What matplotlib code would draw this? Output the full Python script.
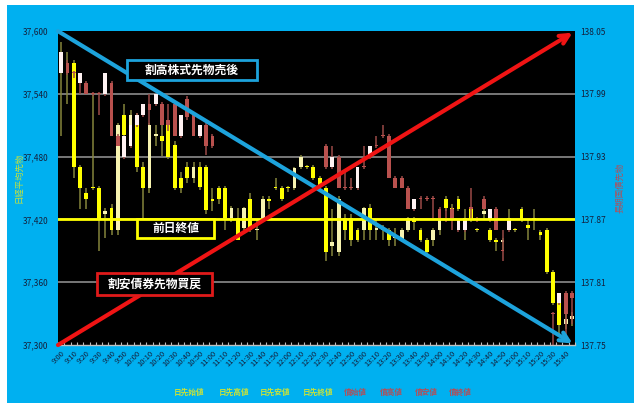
import numpy as np
import matplotlib
matplotlib.use("Agg")
import matplotlib.pyplot as plt
from matplotlib.patches import Rectangle

plt.rcParams['font.family'] = ['Noto Sans CJK JP', 'DejaVu Sans']

# 5分足 9:00 - 15:45
times = ["%d:%02d" % (9 + m // 60, m % 60) for m in range(0, 410, 5)]

# 日経平均先物 (始値, 高値, 安値, 終値)
nk_open = [37575, 37565, 37570, 37470, 37445, 37450, 37450, 37425, 37431, 37410,
           37520, 37510, 37520, 37470, 37450, 37500, 37500, 37510, 37491, 37460,
           37470, 37460, 37470, 37470, 37440, 37450, 37450, 37421, 37421, 37412,
           37440, 37410, 37421, 37440, 37450, 37450, 37450, 37450, 37470, 37470,
           37470, 37460, 37450, 37395, 37389, 37421, 37421, 37410, 37410, 37431,
           37410, 37410, 37410, 37402, 37400, 37410, 37420, 37410, 37400, 37400,
           37410, 37440, 37431, 37440, 37420, 37430, 37410, 37425, 37410, 37400,
           37398, 37420, 37410, 37430, 37415, 37420, 37408, 37410, 37370, 37340,
           37320, 37325]
nk_high = [37590, 37580, 37572, 37472, 37450, 37540, 37452, 37431, 37435, 37512,
           37530, 37525, 37522, 37475, 37512, 37510, 37510, 37512, 37495, 37465,
           37475, 37475, 37475, 37472, 37450, 37452, 37452, 37433, 37431, 37432,
           37445, 37421, 37442, 37442, 37460, 37452, 37452, 37470, 37482, 37472,
           37472, 37462, 37452, 37430, 37442, 37425, 37425, 37412, 37432, 37435,
           37421, 37415, 37412, 37412, 37412, 37422, 37422, 37412, 37402, 37412,
           37422, 37442, 37435, 37442, 37430, 37432, 37412, 37430, 37412, 37402,
           37402, 37430, 37412, 37432, 37420, 37430, 37410, 37412, 37372, 37342,
           37330, 37332]
nk_low = [37500, 37530, 37460, 37430, 37430, 37448, 37390, 37402, 37405, 37405,
          37498, 37505, 37465, 37420, 37445, 37490, 37481, 37478, 37448, 37445,
          37455, 37455, 37448, 37425, 37428, 37435, 37410, 37418, 37400, 37410,
          37408, 37400, 37418, 37430, 37448, 37438, 37446, 37448, 37468, 37468,
          37458, 37450, 37380, 37385, 37385, 37400, 37395, 37398, 37400, 37400,
          37400, 37400, 37395, 37395, 37398, 37408, 37410, 37398, 37385, 37395,
          37405, 37428, 37420, 37428, 37400, 37418, 37408, 37420, 37398, 37390,
          37390, 37410, 37408, 37418, 37400, 37410, 37400, 37368, 37338, 37310,
          37315, 37318]
nk_close = [37565, 37570, 37470, 37450, 37440, 37450, 37420, 37428, 37410, 37510,
            37501, 37520, 37470, 37450, 37510, 37502, 37495, 37480, 37450, 37450,
            37460, 37470, 37451, 37429, 37438, 37440, 37421, 37431, 37400, 37431,
            37410, 37411, 37440, 37438, 37450, 37440, 37450, 37469, 37480, 37470,
            37460, 37451, 37389, 37398, 37440, 37410, 37400, 37400, 37431, 37410,
            37412, 37410, 37400, 37405, 37410, 37421, 37418, 37400, 37389, 37410,
            37421, 37431, 37428, 37430, 37421, 37420, 37410, 37428, 37400, 37398,
            37400, 37421, 37410, 37420, 37412, 37421, 37405, 37370, 37340, 37319,
            37325, 37328]

nan = np.nan
# 長期国債先物 (始値, 高値, 安値, 終値)
bd_open = [138.010, 138.020, 138.010, 138.000, 138.000, 137.990, 137.990, 137.990, 138.000, 137.950,
           137.930, 137.940, 137.960, 137.970, 137.980, 137.980, 137.980, 137.965, 137.980, 137.950,
           137.985, 137.970, 137.950, 137.960, 137.950] + [nan] * 17 + [
           137.940, 137.920, 137.930, 137.900, 137.900, 137.900, 137.920, 137.930, 137.940, 137.950,
           137.950, 137.910, 137.910, 137.900, 137.880, 137.890, 137.890, 137.890, 137.880, 137.870,
           137.880, 137.860, 137.860, 137.882, 137.870, 137.890, 137.870, 137.880, 137.840, 137.860] + [nan] * 6 + [
           137.780, 137.790, 137.800, 137.800]
bd_high = [138.030, 138.022, 138.012, 138.010, 138.002, 137.992, 137.992, 138.010, 138.002, 137.952,
           137.950, 137.960, 137.972, 137.980, 137.990, 137.990, 137.982, 137.980, 137.982, 137.970,
           137.988, 137.972, 137.960, 137.962, 137.952] + [nan] * 17 + [
           137.942, 137.940, 137.932, 137.915, 137.910, 137.920, 137.940, 137.940, 137.950, 137.960,
           137.952, 137.912, 137.912, 137.902, 137.890, 137.892, 137.892, 137.892, 137.882, 137.880,
           137.882, 137.870, 137.870, 137.900, 137.872, 137.892, 137.880, 137.882, 137.860, 137.870] + [nan] * 6 + [
           137.782, 137.800, 137.802, 137.802]
bd_low = [138.010, 138.008, 138.005, 137.990, 137.990, 137.988, 137.970, 137.988, 137.950, 137.940,
          137.928, 137.938, 137.958, 137.968, 137.960, 137.978, 137.960, 137.955, 137.950, 137.948,
          137.965, 137.950, 137.948, 137.932, 137.938] + [nan] * 17 + [
          137.918, 137.918, 137.900, 137.898, 137.898, 137.898, 137.918, 137.928, 137.938, 137.948,
          137.910, 137.900, 137.900, 137.880, 137.878, 137.880, 137.888, 137.870, 137.870, 137.868,
          137.860, 137.858, 137.858, 137.870, 137.868, 137.880, 137.868, 137.860, 137.830, 137.858] + [nan] * 6 + [
          137.750, 137.788, 137.760, 137.770]
bd_close = [138.030, 138.010, 138.010, 138.010, 137.990, 137.990, 137.990, 138.010, 137.950, 137.940,
            137.950, 137.960, 137.970, 137.980, 137.975, 137.990, 137.960, 137.960, 137.950, 137.970,
            137.968, 137.950, 137.960, 137.940, 137.940] + [nan] * 17 + [
            137.920, 137.930, 137.900, 137.900, 137.900, 137.920, 137.920, 137.940, 137.940, 137.950,
            137.910, 137.900, 137.900, 137.880, 137.890, 137.890, 137.890, 137.890, 137.870, 137.870,
            137.870, 137.870, 137.870, 137.880, 137.870, 137.880, 137.880, 137.860, 137.840, 137.870] + [nan] * 6 + [
            137.780, 137.800, 137.780, 137.795]

prev_close = 37420
nk_ticks = [37300, 37360, 37420, 37480, 37540, 37600]
bd_ticks = [137.75, 137.81, 137.87, 137.93, 137.99, 138.05]
legend_items = ["日先始値", "日先高値", "日先安値", "日先終値", "債始値", "債高値", "債安値", "債終値"]

BG = '#00b0f0'
TXT = '#14203c'


def candles(ax, o, h, l, c, up, down, wick, mindh):
    o, h, l, c = map(np.asarray, (o, h, l, c))
    x = np.arange(len(o))
    ok = ~np.isnan(o)
    x, o, h, l, c = x[ok], o[ok], h[ok], l[ok], c[ok]
    ax.vlines(x, l, h, color=wick, lw=1.1, zorder=2)
    bottom = np.minimum(o, c)
    height = np.maximum(np.abs(c - o), mindh)
    cols = [up if cc > oo else down for oo, cc in zip(o, c)]
    ax.bar(x, height, bottom=bottom, width=0.6, color=cols, zorder=3, linewidth=0)


fig = plt.figure(figsize=(6.4, 4.13), dpi=100)
fig.patch.set_facecolor('white')
fig.add_artist(Rectangle((0.011, 0.024), 0.98, 0.964, transform=fig.transFigure,
                         facecolor=BG, edgecolor='none', zorder=0))

ax = fig.add_axes([0.0906, 0.1646, 0.808, 0.760])
ax.set_facecolor('black')
ax2 = ax.twinx()

n = len(times)
ax.set_xlim(-0.5, n - 0.5)
ax.set_ylim(37300, 37600)
ax2.set_ylim(137.75, 138.05)

for v in nk_ticks[1:-1]:
    ax.axhline(v, color='#8c8c8c', lw=1.2, zorder=1)

candles(ax, nk_open, nk_high, nk_low, nk_close, '#f7f3b0', '#ffff00', '#85853c', 0.8)
candles(ax2, bd_open, bd_high, bd_low, bd_close, '#fff2f2', '#b9514e', '#9a4a47', 0.0008)

ax2.axhline(137.87, color='#ffff00', lw=2, zorder=5)

ax.set_yticks(nk_ticks)
ax.set_yticklabels(["{:,}".format(v) for v in nk_ticks])
ax2.set_yticks(bd_ticks)
ax2.set_yticklabels(["%.2f" % v for v in bd_ticks])
ax.tick_params(axis='y', length=0, pad=7, labelsize=6, labelcolor=TXT)
ax2.tick_params(axis='y', length=0, pad=4, labelsize=6, labelcolor=TXT)

ax.set_xticks(np.arange(0, n, 2))
ax.set_xticklabels(times[::2], rotation=45, ha='right', rotation_mode='anchor')
ax.set_xticks(np.arange(-0.5, n, 1), minor=True)
ax.tick_params(axis='x', which='major', length=0, pad=3, labelsize=5.5, labelcolor=TXT)
ax.tick_params(axis='x', which='minor', direction='in', length=2.5, color='#bfbfbf', width=0.8)

for a in (ax, ax2):
    for s in a.spines.values():
        s.set_visible(False)
ax2.spines['bottom'].set_visible(True)
ax2.spines['bottom'].set_color('#bfbfbf')
ax2.spines['bottom'].set_linewidth(1)

# 矢印
ax2.annotate('', xy=(0.995, 0.005), xytext=(0.0, 1.0), xycoords='axes fraction',
             arrowprops=dict(arrowstyle='->', color='#1da3dc', lw=3, mutation_scale=16,
                             shrinkA=0, shrinkB=0), zorder=8)
ax2.annotate('', xy=(0.995, 0.995), xytext=(0.0, 0.0), xycoords='axes fraction',
             arrowprops=dict(arrowstyle='->', color='#f01414', lw=3, mutation_scale=16,
                             shrinkA=0, shrinkB=0), zorder=8)

# ラベル枠
boxes = [("割高株式先物売後", (0.133, 0.844, 0.252, 0.064), '#1da3dc'),
         ("前日終値", (0.153, 0.341, 0.149, 0.060), '#ffff00'),
         ("割安債券先物買戻", (0.075, 0.159, 0.223, 0.070), '#e01a1a')]
for label, (bx, by, bw, bh), ec in boxes:
    ax2.add_patch(Rectangle((bx, by), bw, bh, transform=ax2.transAxes, facecolor='black',
                            edgecolor=ec, lw=2, zorder=9, clip_on=False))
    ax2.text(bx + bw / 2, by + bh / 2, label, transform=ax2.transAxes, ha='center', va='center',
             color='white', fontsize=8.5, fontweight='bold', zorder=10)

fig.text(0.030, 0.57, "日経平均先物", rotation=90, ha='center', va='center',
         color='#c8e23a', fontsize=6)
fig.text(0.969, 0.545, "長期国債先物", rotation=90, ha='center', va='center',
         color='#b0505a', fontsize=6)

leg_x = [0.295, 0.366, 0.430, 0.497, 0.556, 0.612, 0.666, 0.720]
for i, (t, xx) in enumerate(zip(legend_items, leg_x)):
    fig.text(xx, 0.051, t, ha='center', va='center', fontsize=5.5, fontweight='bold',
             color='#c8e23a' if i < 4 else '#b0505a')

fig.savefig('out.png', dpi=100, facecolor=fig.get_facecolor())
